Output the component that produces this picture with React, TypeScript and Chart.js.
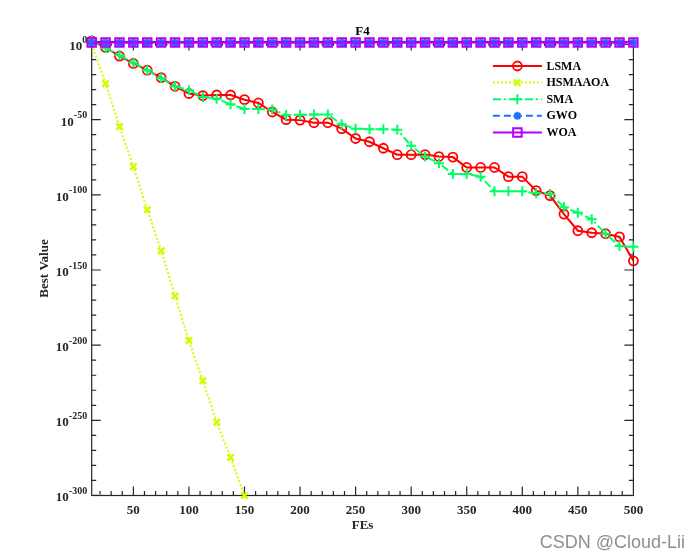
import React, { useEffect, useRef } from 'react';
import { Chart, registerables } from 'chart.js';

Chart.register(...registerables);

// ---------- data ----------
const FES = [
  12.5, 25, 37.5, 50, 62.5, 75, 87.5, 100, 112.5, 125, 137.5, 150, 162.5, 175, 187.5, 200,
  212.5, 225, 237.5, 250, 262.5, 275, 287.5, 300, 312.5, 325, 337.5, 350, 362.5, 375, 387.5, 400,
  412.5, 425, 437.5, 450, 462.5, 475, 487.5, 500,
];

const LSMA = [
  3e2, 1e-2, 2e-8, 2.5e-13, 8e-18, 1e-22, 1.6e-28, 2.5e-33, 1e-34, 2.5e-34, 2.5e-34, 2e-37,
  1.3e-39, 1.3e-45, 1e-50, 5e-51, 1e-52, 1e-52, 1e-56, 3e-63, 2e-65, 1e-69, 5e-74, 5e-74,
  6e-74, 3e-75, 1.3e-75, 1.6e-82, 1.6e-82, 1.6e-82, 1.3e-88, 1.3e-88, 6e-98, 3e-101, 1.6e-113,
  1.3e-124, 6e-126, 1.3e-126, 1e-128, 1.3e-144,
];

const HSMAAOA = [
  1e0, 1e-26, 3e-55, 6e-82, 1.3e-110, 6e-138, 5e-168, 1.3e-197, 2.5e-224, 6e-252, 1.6e-275, 1e-300,
];

const SMA = [
  3e2, 5e-3, 8e-8, 1e-12, 8e-18, 4e-23, 1.6e-28, 4e-31, 1.3e-35, 1e-36, 1.6e-40, 1.3e-43,
  1.3e-43, 5e-44, 1.3e-47, 2e-47, 2.5e-47, 2.5e-47, 8e-54, 1e-56, 5e-57, 5e-57, 2e-57, 4e-68,
  3e-75, 1e-79, 8e-87, 8e-87, 1.3e-88, 2.5e-98, 2.5e-98, 2.5e-98, 1e-99, 4e-100, 5e-109,
  1.3e-112, 5e-117, 1.3e-126, 8e-135, 2.5e-135,
];

const GWO = [
  2e1, 2e1, 2e1, 2e1, 2e1, 2e1, 2e1, 2e1, 2e1, 2e1, 2e1, 2e1, 2e1, 2e1, 2e1, 2e1, 2e1, 2e1, 2e1, 2e1,
  2e1, 2e1, 2e1, 2e1, 2e1, 2e1, 2e1, 2e1, 2e1, 2e1, 2e1, 2e1, 2e1, 2e1, 2e1, 2e1, 2e1, 2e1, 2e1, 2e1,
];

const WOA = [
  2e1, 2e1, 2e1, 2e1, 2e1, 2e1, 2e1, 2e1, 2e1, 2e1, 2e1, 2e1, 2e1, 2e1, 2e1, 2e1, 2e1, 2e1, 2e1, 2e1,
  2e1, 2e1, 2e1, 2e1, 2e1, 2e1, 2e1, 2e1, 2e1, 2e1, 2e1, 2e1, 2e1, 2e1, 2e1, 2e1, 2e1, 2e1, 2e1, 2e1,
];

const X_TICKS = [50, 100, 150, 200, 250, 300, 350, 400, 450, 500];
const Y_TICK_EXPONENTS = [0, -50, -100, -150, -200, -250, -300];
const TITLE = 'F4';
const X_TITLE = 'FEs';
const Y_TITLE = 'Best Value';
const WATERMARK = 'CSDN @Cloud-Lii';

const SERIF = '"Liberation Serif", "Times New Roman", serif';
const AXIS_COLOR = '#262626';

function pts(ys: number[]) {
  return ys.map((y, i) => ({ x: FES[i], y }));
}

function drawMarker(
  ctx: CanvasRenderingContext2D,
  style: string,
  x: number,
  y: number,
  r: number,
  color: string,
  bw: number,
) {
  ctx.save();
  ctx.setLineDash([]);
  ctx.strokeStyle = color;
  ctx.fillStyle = color;
  ctx.lineWidth = bw;
  ctx.beginPath();
  const d = r * Math.SQRT1_2;
  if (style === 'circle') {
    ctx.arc(x, y, r, 0, Math.PI * 2);
  } else if (style === 'crossRot') {
    ctx.moveTo(x - d, y - d); ctx.lineTo(x + d, y + d);
    ctx.moveTo(x - d, y + d); ctx.lineTo(x + d, y - d);
  } else if (style === 'cross') {
    ctx.moveTo(x - r, y); ctx.lineTo(x + r, y);
    ctx.moveTo(x, y - r); ctx.lineTo(x, y + r);
  } else if (style === 'star') {
    ctx.moveTo(x - r, y); ctx.lineTo(x + r, y);
    ctx.moveTo(x, y - r); ctx.lineTo(x, y + r);
    ctx.moveTo(x - d, y - d); ctx.lineTo(x + d, y + d);
    ctx.moveTo(x - d, y + d); ctx.lineTo(x + d, y - d);
  } else if (style === 'rect') {
    ctx.rect(x - d, y - d, 2 * d, 2 * d);
  }
  ctx.stroke();
  ctx.restore();
}

const framePlugin = {
  id: 'matlabFrame',
  beforeDatasetsDraw(chart: any) {
    const { ctx, chartArea: a, scales } = chart;
    const xs = scales.x;
    const ys = scales.y;
    ctx.save();
    ctx.strokeStyle = AXIS_COLOR;
    ctx.lineWidth = 1.2;
    ctx.setLineDash([]);
    ctx.strokeRect(a.left, a.top, a.right - a.left, a.bottom - a.top);

    const major = 9;
    const minor = 4.5;
    ctx.beginPath();
    // x ticks every 10, major every 50
    for (let v = 20; v < 500; v += 10) {
      const px = xs.getPixelForValue(v);
      const len = v % 50 === 0 ? major : minor;
      ctx.moveTo(px, a.bottom); ctx.lineTo(px, a.bottom - len);
      ctx.moveTo(px, a.top); ctx.lineTo(px, a.top + len);
    }
    // y ticks every 10 decades, major every 50
    for (let e = -290; e <= 0; e += 10) {
      const py = ys.getPixelForValue(Math.pow(10, e));
      const len = e % 50 === 0 ? major : minor;
      ctx.moveTo(a.left, py); ctx.lineTo(a.left + len, py);
      ctx.moveTo(a.right, py); ctx.lineTo(a.right - len, py);
    }
    ctx.stroke();

    // dense log minor ticks bunched at the bottom decade
    const pyTop = ys.getPixelForValue(1e-299);
    ctx.fillStyle = '#c4c4c4';
    ctx.fillRect(a.left + 0.6, pyTop, 10, a.bottom - pyTop - 0.6);
    ctx.fillRect(a.right - 10.6, pyTop, 10, a.bottom - pyTop - 0.6);
    ctx.restore();
  },
  afterDraw(chart: any) {
    const { ctx, chartArea: a, scales } = chart;
    const ys = scales.y;
    ctx.save();
    ctx.fillStyle = AXIS_COLOR;
    // y tick labels with superscript exponents
    const baseFont = `bold 13px ${SERIF}`;
    const expFont = `bold 10px ${SERIF}`;
    for (const e of Y_TICK_EXPONENTS) {
      const py = ys.getPixelForValue(Math.pow(10, e));
      const expStr = String(e);
      ctx.font = expFont;
      const we = ctx.measureText(expStr).width;
      ctx.font = baseFont;
      const wb = ctx.measureText('10').width;
      const right = a.left - 4.5;
      ctx.textAlign = 'left';
      ctx.textBaseline = 'middle';
      ctx.font = baseFont;
      ctx.fillText('10', right - we - wb, py + 2.5);
      ctx.font = expFont;
      ctx.fillText(expStr, right - we, py - 4);
    }

    // titles
    ctx.fillStyle = '#000';
    ctx.font = `bold 13px ${SERIF}`;
    ctx.textAlign = 'center';
    ctx.textBaseline = 'middle';
    const cx = (a.left + a.right) / 2;
    ctx.fillText(TITLE, cx, a.top - 10);
    ctx.fillStyle = AXIS_COLOR;
    ctx.fillText(X_TITLE, cx, a.bottom + 30.5);
    ctx.save();
    ctx.translate(45, (a.top + a.bottom) / 2);
    ctx.rotate(-Math.PI / 2);
    ctx.fillText(Y_TITLE, 0, 0);
    ctx.restore();

    // legend
    const ds = chart.data.datasets;
    const lx0 = a.right - 140.5;
    const lx1 = a.right - 91.5;
    const lxm = (lx0 + lx1) / 2;
    const ltx = a.right - 87;
    ds.forEach((d: any, i: number) => {
      const ly = a.top + 24.5 + i * 16.6;
      ctx.save();
      ctx.strokeStyle = d.borderColor;
      ctx.lineWidth = d.borderWidth;
      ctx.setLineDash(d.borderDash || []);
      ctx.beginPath();
      ctx.moveTo(lx0, ly);
      ctx.lineTo(lx1, ly);
      ctx.stroke();
      ctx.restore();
      drawMarker(ctx, d.pointStyle, lxm, ly, d.pointRadius, d.borderColor, d.pointBorderWidth);
      ctx.fillStyle = '#000';
      ctx.font = `bold 12px ${SERIF}`;
      ctx.textAlign = 'left';
      ctx.textBaseline = 'middle';
      ctx.fillText(d.label, ltx, ly + 0.5);
    });

    // watermark
    ctx.fillStyle = '#8f8f8f';
    ctx.font = '18px "Liberation Sans", Arial, sans-serif';
    ctx.textAlign = 'right';
    ctx.textBaseline = 'middle';
    ctx.fillText(WATERMARK, 685, 543);
    ctx.restore();
  },
};

export default function App() {
  const ref = useRef<HTMLCanvasElement | null>(null);

  useEffect(() => {
    if (!ref.current) return;
    const common = { tension: 0, clip: false as any, fill: false, pointBackgroundColor: 'rgba(0,0,0,0)' };
    const chart = new Chart(ref.current, {
      type: 'line',
      data: {
        datasets: [
          {
            ...common,
            label: 'LSMA', data: pts(LSMA), borderColor: '#FF0000', borderWidth: 2,
            pointStyle: 'circle', pointRadius: 4.5, pointBorderWidth: 1.8, pointBorderColor: '#FF0000', order: 4,
          },
          {
            ...common,
            label: 'HSMAAOA', data: pts(HSMAAOA), borderColor: '#CCFF00', borderWidth: 2, borderDash: [2, 2],
            pointStyle: 'crossRot', pointRadius: 4.5, pointBorderWidth: 2.5, pointBorderColor: '#CCFF00', order: 3,
          },
          {
            ...common,
            label: 'SMA', data: pts(SMA), borderColor: '#00FF66', borderWidth: 2, borderDash: [8, 3, 2, 3],
            pointStyle: 'cross', pointRadius: 5, pointBorderWidth: 2, pointBorderColor: '#00FF66', order: 2,
          },
          {
            ...common,
            label: 'GWO', data: pts(GWO), borderColor: '#1F6FFF', borderWidth: 2, borderDash: [7, 4],
            pointStyle: 'star', pointRadius: 4, pointBorderWidth: 2.2, pointBorderColor: '#1F6FFF', order: 1,
          },
          {
            ...common,
            label: 'WOA', data: pts(WOA), borderColor: '#B400FF', borderWidth: 2,
            pointStyle: 'rect', pointRadius: 6, pointBorderWidth: 2, pointBorderColor: '#B400FF', order: 0,
          },
        ] as any,
      },
      options: {
        responsive: false,
        animation: false,
        events: [],
        layout: { padding: { top: 41.5, right: 66.6, left: 0, bottom: 0 } },
        plugins: {
          legend: { display: false },
          tooltip: { enabled: false },
          title: { display: false },
        },
        scales: {
          x: {
            type: 'linear',
            min: 12.5,
            max: 500,
            afterBuildTicks: (s: any) => {
              s.ticks = X_TICKS.map((v) => ({ value: v }));
            },
            afterFit: (s: any) => {
              s.height = 64.5;
            },
            grid: { display: false, drawTicks: false },
            border: { display: false },
            ticks: {
              font: { family: SERIF, size: 13, weight: 'bold' },
              color: AXIS_COLOR,
              padding: 7,
              maxRotation: 0,
              autoSkip: false,
            },
          },
          y: {
            type: 'logarithmic',
            min: 1e-300,
            max: 1e2,
            afterBuildTicks: (s: any) => {
              s.ticks = Y_TICK_EXPONENTS.map((e) => ({ value: Math.pow(10, e) }));
            },
            afterFit: (s: any) => {
              s.width = 91.7;
            },
            grid: { display: false, drawTicks: false },
            border: { display: false },
            ticks: { display: false },
          },
        } as any,
      },
      plugins: [framePlugin],
    });
    return () => chart.destroy();
  }, []);

  return (
    <div style={{ position: 'fixed', left: 0, top: 0, width: 700, height: 560, background: '#fff' }}>
      <canvas ref={ref} width={700} height={560} style={{ display: 'block' }} />
    </div>
  );
}
